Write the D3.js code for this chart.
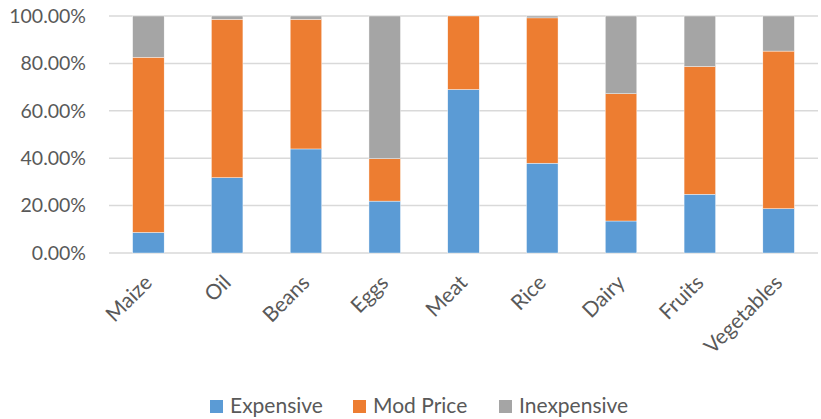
<!DOCTYPE html>
<html>
<head>
<meta charset="utf-8">
<script src="https://cdn.jsdelivr.net/npm/d3@7"></script>
<style>
  body { margin: 0; background: #fff; }
  text { font-family: Lato, "Open Sans", sans-serif; fill: #595959; }
</style>
</head>
<body>
<div id="chart"></div>
<script>
  const categories = ["Maize", "Oil", "Beans", "Eggs", "Meat", "Rice", "Dairy", "Fruits", "Vegetables"];
  const seriesNames = ["Expensive", "Mod Price", "Inexpensive"];
  const expensive   = [8.7, 31.8, 43.9, 21.9, 69.0, 37.9, 13.5, 24.8, 18.7];
  const modPrice    = [73.9, 66.8, 54.7, 17.9, 31.0, 61.3, 53.7, 53.9, 66.5];
  const inexpensive = [17.4, 1.4, 1.4, 60.2, 0.0, 0.8, 32.8, 21.3, 14.8];
  const yTicks = [0, 20, 40, 60, 80, 100];
  const colors = ["#5B9BD5", "#ED7D31", "#A5A5A5"];

  const svgWidth = 821;
  const svgHeight = 419;
  const margin = { top: 16, right: 3, bottom: 166, left: 109 };

  const svg = d3.select("#chart")
    .append("svg")
    .attr("width", svgWidth)
    .attr("height", svgHeight);

  // build rows for stacking
  const rows = categories.map((c, i) => ({
    cat: c,
    "Expensive": expensive[i],
    "Mod Price": modPrice[i],
    "Inexpensive": inexpensive[i]
  }));
  const stacked = d3.stack().keys(seriesNames)(rows);

  const xScale = d3.scaleBand()
    .domain(categories)
    .range([margin.left, svgWidth - margin.right])
    .paddingInner(0.6)
    .paddingOuter(0.3);

  const yScale = d3.scaleLinear()
    .domain([0, 100])
    .range([svgHeight - margin.bottom, margin.top]);

  // gridlines
  svg.append("g")
    .selectAll("line")
    .data(yTicks)
    .enter()
    .append("line")
    .attr("x1", margin.left)
    .attr("x2", svgWidth - margin.right)
    .attr("y1", d => yScale(d))
    .attr("y2", d => yScale(d))
    .attr("stroke", "#D9D9D9")
    .attr("stroke-width", 1.5);

  // y axis labels
  const yAxis = svg.append("g")
    .attr("transform", `translate(${margin.left - 23}, 0)`)
    .call(d3.axisLeft(yScale).tickValues(yTicks).tickSize(0).tickFormat(d => d.toFixed(2) + "%"));
  yAxis.select(".domain").remove();
  yAxis.selectAll("text")
    .attr("x", 0)
    .style("font-size", "19.5px")
    .style("font-family", "Lato, sans-serif")
    .attr("fill", "#595959");

  // bars
  svg.append("g")
    .selectAll("g")
    .data(stacked)
    .enter()
    .append("g")
    .attr("fill", (d, i) => colors[i])
    .selectAll("rect")
    .data(d => d)
    .enter()
    .append("rect")
    .attr("x", d => xScale(d.data.cat))
    .attr("y", d => yScale(d[1]))
    .attr("width", xScale.bandwidth())
    .attr("height", d => yScale(d[0]) - yScale(d[1]))
    .attr("stroke", "#fff")
    .attr("stroke-width", 0.4);

  // x axis labels
  const xAxis = svg.append("g")
    .attr("transform", `translate(0, ${svgHeight - margin.bottom})`)
    .call(d3.axisBottom(xScale).tickSize(0));
  xAxis.select(".domain").remove();
  xAxis.selectAll("text")
    .attr("y", 0)
    .attr("dy", 0)
    .attr("transform", "translate(5, 31) rotate(-45)")
    .style("text-anchor", "end")
    .style("font-size", "21px")
    .style("font-family", "Lato, sans-serif")
    .attr("fill", "#595959");

  // legend
  const legendX = [210, 353, 499];
  const legend = svg.append("g")
    .selectAll("g")
    .data(seriesNames)
    .enter()
    .append("g")
    .attr("transform", (d, i) => `translate(${legendX[i]}, 400)`);

  legend.append("rect")
    .attr("width", 13)
    .attr("height", 13)
    .attr("fill", (d, i) => colors[i]);

  legend.append("text")
    .attr("x", 20)
    .attr("y", 13)
    .style("font-size", "21px")
    .text(d => d);
</script>
</body>
</html>
